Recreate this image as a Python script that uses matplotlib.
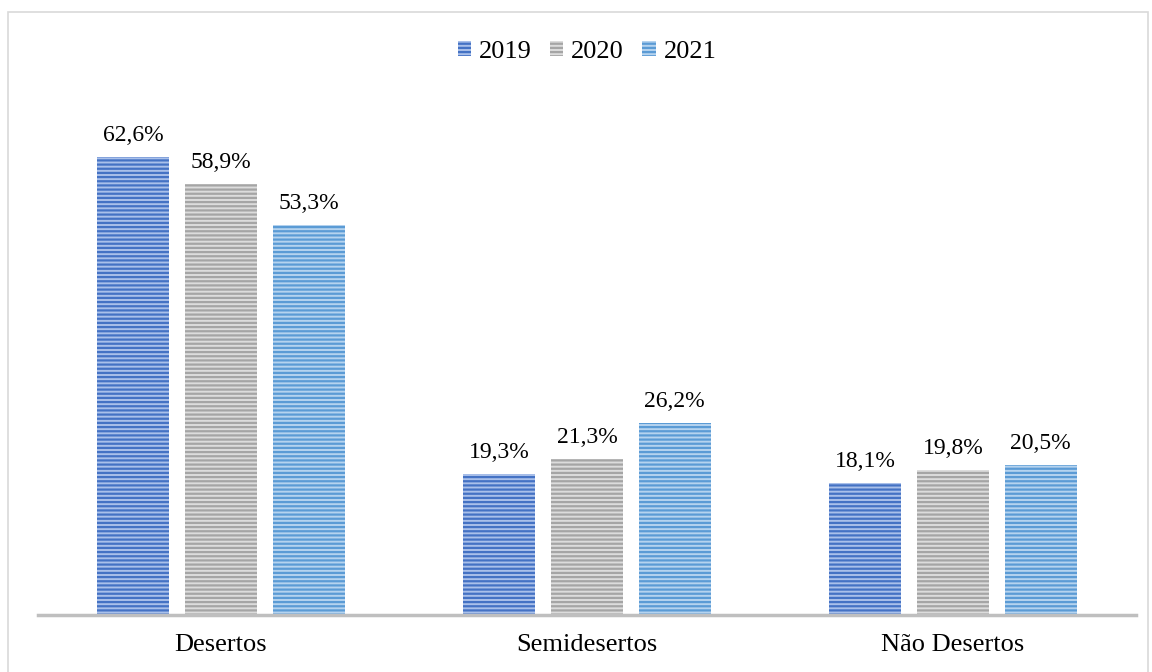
import numpy as np
import matplotlib
matplotlib.use("Agg")
import matplotlib.pyplot as plt
from matplotlib.patches import Rectangle

plt.rcParams['font.family'] = ['Liberation Serif', 'DejaVu Serif']
plt.rcParams['hatch.linewidth'] = 1.6

categories = ["Desertos", "Semidesertos", "Não Desertos"]
years = ["2019", "2020", "2021"]
values = {
    "2019": [62.6, 19.3, 18.1],
    "2020": [58.9, 21.3, 19.8],
    "2021": [53.3, 26.2, 20.5],
}
# (face, stripe) colours per series
colors = {
    "2019": ("#a9c0ea", "#4472c4"),
    "2020": ("#dcdcdc", "#a5a5a5"),
    "2021": ("#b5d3ef", "#5b9bd5"),
}

fig = plt.figure(figsize=(11.52, 6.72), dpi=100)
ax = fig.add_axes([0.033, 0.0848, 0.953, 0.762])

x = np.arange(len(categories))
width = 0.197
step = 0.240

for i, yr in enumerate(years):
    face, stripe = colors[yr]
    pos = x + (i - 1) * step
    bars = ax.bar(pos, values[yr], width, color=face, edgecolor=stripe,
                  hatch="----", linewidth=0, label=yr)
    for b, v in zip(bars, values[yr]):
        ax.text(b.get_x() + b.get_width() / 2, v + 1.5,
                f"{v:.1f}%".replace(".", ","), ha="center", va="bottom",
                fontsize=17)

ax.set_xlim(-0.5, 2.5)
ax.set_ylim(0, 70)
ax.set_yticks([])
ax.set_xticks(x)
ax.set_xticklabels(categories, fontsize=19)
ax.tick_params(axis="x", length=0, pad=14)
for s in ["top", "right", "left"]:
    ax.spines[s].set_visible(False)
ax.spines["bottom"].set_color("#bfbfbf")
ax.spines["bottom"].set_linewidth(2.5)

ax.legend(loc="center", bbox_to_anchor=(0.5, 1.10), ncol=3,
          frameon=False, fontsize=19, handlelength=0.5, handleheight=0.5,
          handletextpad=0.3, columnspacing=0.7)

# outer chart border
fig.patches.append(Rectangle((8 / 1152, -0.1), 1140 / 1152, 1.1 - 12 / 672,
                             transform=fig.transFigure, fill=False,
                             edgecolor="#d9d9d9", linewidth=1.2))

fig.savefig("out.png", dpi=100)
